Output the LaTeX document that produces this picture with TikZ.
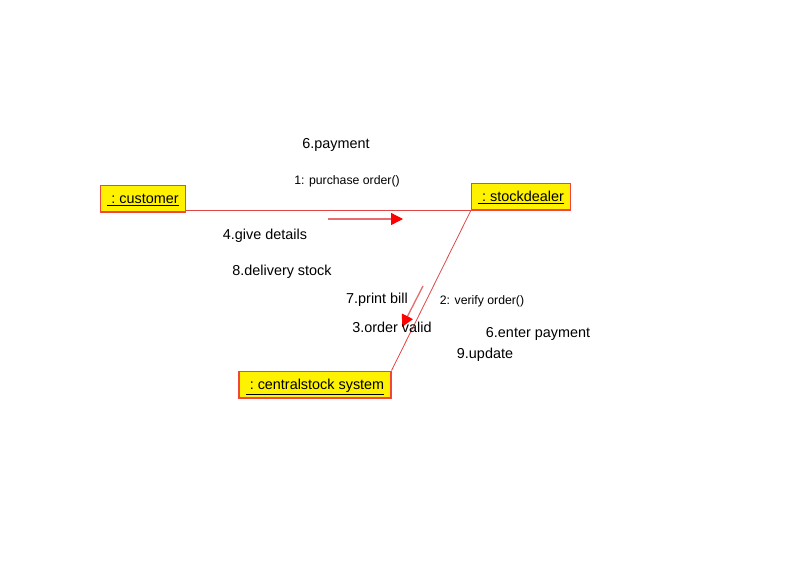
\documentclass[tikz,border=0pt]{standalone}
\usepackage{fontspec}
\setmainfont{Liberation Sans}
\usepackage{xcolor}
\usepackage{tikz}
\usetikzlibrary{
  positioning,
  arrows.meta
}
\definecolor{boxline}{RGB}{240,70,60}
\definecolor{linkline}{RGB}{225,70,70}
\definecolor{msgline}{RGB}{230,110,110}
\tikzset{
  >=Latex,
  object/.style={rectangle,draw=boxline,line width=1pt,fill=yellow,align=center,inner xsep=5pt,minimum height=20pt,text height=8pt,text depth=1pt,font=\fontsize{10.8}{12}\selectfont},
  link/.style={draw=linkline,line width=0.6pt},
  msgarrow/.style={draw=msgline,line width=1pt,-{Triangle[length=9pt,width=9pt,fill=red,color=red]}},
  msglabel/.style={font=\fontsize{10.8}{12}\selectfont,inner sep=0pt},
  seqlabel/.style={font=\fontsize{9.2}{11}\selectfont,inner sep=0pt}
}

\begin{document}
\begin{tikzpicture}[x=0.75pt,y=-0.75pt]
    \useasboundingbox[fill=white] (0,0) rectangle (805,579);

    % objects
    \node[object] (cust) at (143,198.5) {\underline{\ :\ customer}};
    \node[object] (dealer) at (521,196.5) {\underline{\ :\ stockdealer}};
    \node[object] (central) at (315,384.5) {\underline{\ :\ centralstock system}};

    % links
    \draw[link] (cust.east |- dealer.south west) -- (dealer.south west);
    \draw[link] (dealer.south west) -- (central.north east);

    % message arrows
    \coordinate (m1s) at (328,219);
    \coordinate (m1e) at (403,219);
    \coordinate (m2s) at (423,286);
    \coordinate (m2e) at (402,327);
    \draw[msgarrow] (m1s) -- (m1e);
    \draw[msgarrow] (m2s) -- (m2e);

    % messages customer - stockdealer
    \node[msglabel] (l6a) at (336,144.5) {6.payment};
    \node[seqlabel] (l1) at (347,181) {1: purchase order()};
    \node[msglabel] (l4) at (265,235.5) {4.give details};
    \node[msglabel] (l8) at (282,271.5) {8.delivery stock};

    % messages stockdealer - centralstock system
    \node[msglabel] (l7) at (377,299.5) {7.print bill};
    \node[seqlabel] (l2) at (482,301) {2: verify order()};
    \node[msglabel] (l3) at (392,327.5) {3.order valid};
    \node[msglabel] (l6b) at (538,333.5) {6.enter payment};
    \node[msglabel] (l9) at (485,354.5) {9.update};
\end{tikzpicture}
\end{document}
